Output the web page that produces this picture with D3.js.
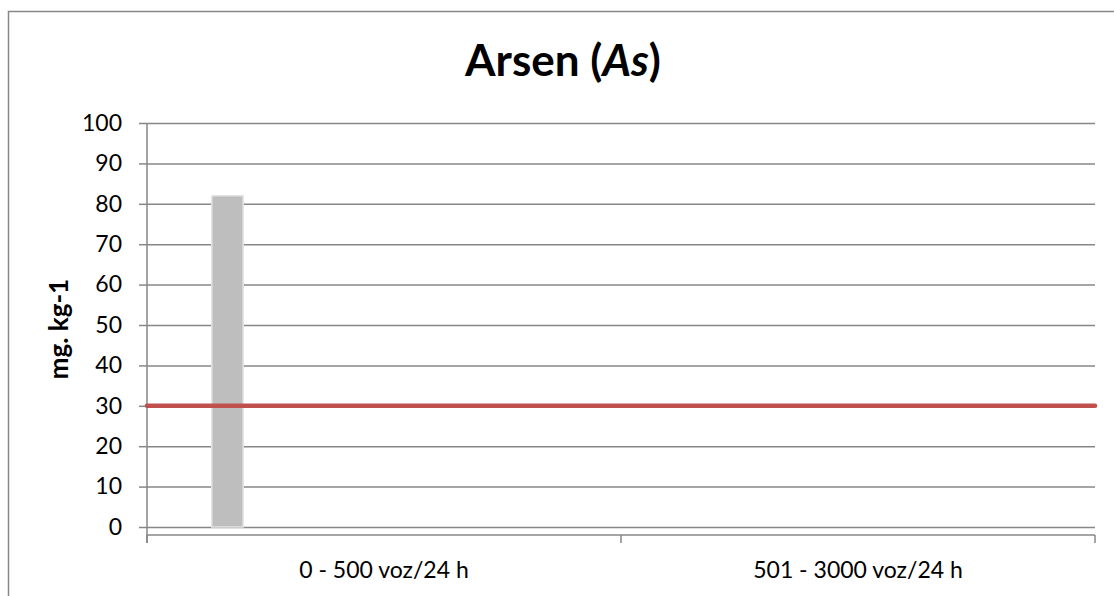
<!DOCTYPE html>
<html>
<head>
<meta charset="utf-8">
<script src="https://cdn.jsdelivr.net/npm/d3@7"></script>
<style>
  html, body { margin: 0; padding: 0; background: #fff; }
  svg { display: block; font-family: Lato, "Open Sans", sans-serif; }
</style>
</head>
<body>
<svg id="chart" width="1114" height="596"></svg>
<script>
// Road-traffic classes and measured arsenic content (mg/kg) per sample slot
const categories = ["0 - 500 voz/24 h", "501 - 3000 voz/24 h"];
const sampleSlots = ["s1", "s2", "s3", "s4", "s5", "s6", "s7", "s8", "s9", "s10", "s11"];
const arsenValues = [
  [82, null, null, null, null, null, null, null, null, null, null],
  [null, null, null, null, null, null, null, null, null, null, null]
];
const yTicks = [0, 10, 20, 30, 40, 50, 60, 70, 80, 90, 100];
const limitValue = 30;
const chartTitle = "Arsen (";
const chartTitleItalic = "As";
const yAxisTitle = "mg. kg-1";

const svg = d3.select("#chart");
const plot = { left: 147, right: 1095, top: 123, bottom: 527 };
const axisGray = "#878787";

// chart frame
svg.append("rect")
  .attr("x", 8.5).attr("y", 11.5)
  .attr("width", 1140).attr("height", 620)
  .attr("fill", "none").attr("stroke", axisGray).attr("stroke-width", 1.5);

const y = d3.scaleLinear().domain([0, 100]).range([plot.bottom, plot.top]);
const x0 = d3.scaleBand().domain(categories).range([plot.left, plot.right]).padding(0);
const x1 = d3.scaleBand().domain(sampleSlots).range([0, x0.bandwidth()])
  .paddingInner(0).paddingOuter(2.07);

// horizontal gridlines with left tick marks and labels
const yAxis = d3.axisLeft(y).tickValues(yTicks).tickSize(8).tickPadding(17)
  .tickFormat(d3.format("d"));
const gy = svg.append("g").attr("transform", `translate(${plot.left},0)`).call(yAxis);
gy.select(".domain").remove();
gy.selectAll(".tick line").attr("stroke", axisGray).attr("stroke-width", 1.5);
gy.selectAll(".tick").append("line")
  .attr("x1", 0).attr("x2", plot.right - plot.left)
  .attr("stroke", axisGray).attr("stroke-width", 1.5);
gy.selectAll(".tick text")
  .attr("font-size", 23).attr("fill", "#000").attr("font-family", "Lato, sans-serif");

// bars
const groups = svg.append("g").selectAll("g")
  .data(categories.map((c, i) => ({ cat: c, vals: arsenValues[i] })))
  .join("g")
  .attr("transform", d => `translate(${x0(d.cat)},0)`);
groups.selectAll("rect")
  .data(d => d.vals.map((v, j) => ({ slot: sampleSlots[j], v })).filter(e => e.v != null))
  .join("rect")
  .attr("x", e => x1(e.slot))
  .attr("width", x1.bandwidth())
  .attr("y", e => y(e.v))
  .attr("height", e => y(0) - y(e.v))
  .attr("fill", "#BEBEBE")
  .attr("stroke", "#E4E4E4")
  .attr("stroke-width", 1.5);

// category axis, drawn a little below the zero line
const xAxisY = 535;
const gx = svg.append("g");
gx.append("line")
  .attr("x1", plot.left).attr("x2", plot.right)
  .attr("y1", xAxisY).attr("y2", xAxisY)
  .attr("stroke", axisGray).attr("stroke-width", 1.5);
const tickXs = categories.map(c => x0(c)).concat([plot.right]);
gx.selectAll("line.tk").data(tickXs).join("line").attr("class", "tk")
  .attr("x1", d => d).attr("x2", d => d)
  .attr("y1", xAxisY).attr("y2", xAxisY + 8)
  .attr("stroke", axisGray).attr("stroke-width", 1.5);
gx.selectAll("text").data(categories).join("text")
  .attr("x", d => x0(d) + x0.bandwidth() / 2)
  .attr("y", 578)
  .attr("text-anchor", "middle")
  .attr("font-size", 23)
  .attr("fill", "#000")
  .text(d => d);

// vertical axis line
svg.append("line")
  .attr("x1", plot.left).attr("x2", plot.left)
  .attr("y1", plot.top).attr("y2", xAxisY + 8)
  .attr("stroke", axisGray).attr("stroke-width", 1.5);

// limit line
svg.append("line")
  .attr("x1", plot.left).attr("x2", plot.right)
  .attr("y1", y(limitValue)).attr("y2", y(limitValue))
  .attr("stroke", "#C0504D").attr("stroke-width", 4.5)
  .attr("stroke-linecap", "round");

// title
const title = svg.append("text")
  .attr("x", 563).attr("y", 76)
  .attr("text-anchor", "middle")
  .attr("font-size", 44).attr("font-weight", "bold").attr("fill", "#000");
title.append("tspan").text(chartTitle);
title.append("tspan").attr("font-style", "italic").text(chartTitleItalic);
title.append("tspan").text(")");

// y-axis title
svg.append("text")
  .attr("transform", "translate(68,329) rotate(-90)")
  .attr("text-anchor", "middle")
  .attr("font-size", 26).attr("font-weight", "bold").attr("fill", "#000")
  .text(yAxisTitle);
</script>
</body>
</html>
